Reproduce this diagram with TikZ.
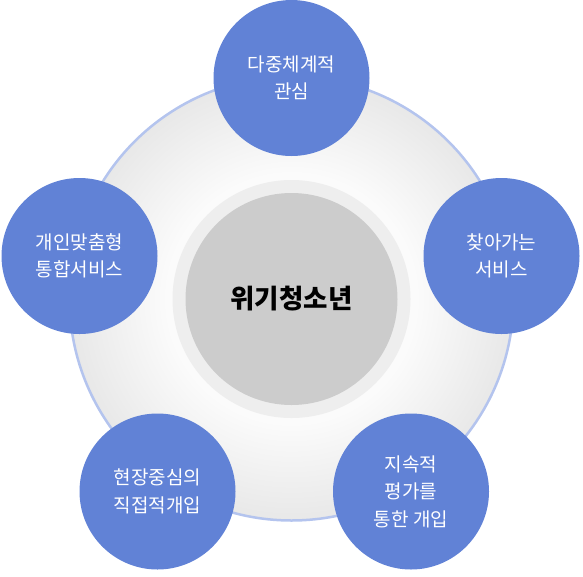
\documentclass[tikz,border=0pt]{standalone}
\usepackage{fontspec}
\setmainfont{Noto Sans CJK KR}
\definecolor{blu}{HTML}{6182D6}
\definecolor{rimblue}{HTML}{B4C4EE}
\definecolor{ringgray}{HTML}{EEEEEE}
\definecolor{coregray}{HTML}{CCCCCC}
\definecolor{shadein}{HTML}{FBFBFB}
\definecolor{shadeout}{HTML}{E8E8E8}
\pgfdeclareradialshading{bigshade}{\pgfpoint{0bp}{0bp}}{color(0bp)=(shadein); color(14bp)=(shadein); color(25bp)=(shadeout); color(50bp)=(shadeout)}
\tikzset{
  bluecircle/.style={circle, fill=blu, minimum size=156pt, inner sep=0pt, text=white, align=center, font=\fontsize{19}{27.5}\selectfont},
}
\begin{document}
\begin{tikzpicture}[x=1pt,y=-1pt]
\useasboundingbox (0,0) rectangle (583,576);
\node[circle, minimum size=444pt, inner sep=0pt, shading=bigshade, draw=rimblue, line width=2.5pt] (big) at (291.5,298.5) {};
\node[circle, minimum size=238pt, inner sep=0pt, fill=ringgray] (ring) at (291.5,299) {};
\node[circle, minimum size=212pt, inner sep=0pt, fill=coregray, font=\fontsize{26.5}{30}\selectfont\bfseries] (core) at (291.5,299) {위기청소년};
\node[bluecircle] (top) at (291.5,78) {다중체계적\\관심};
\node[bluecircle] (right) at (501.5,256) {찾아가는\\서비스};
\node[bluecircle] (br) at (411,491.5) {지속적\\평가를\\통한 개입};
\node[bluecircle] (bl) at (157.5,491.5) {현장중심의\\직접적개입};
\node[bluecircle] (left) at (79.5,256) {개인맞춤형\\통합서비스};
\end{tikzpicture}
\end{document}
